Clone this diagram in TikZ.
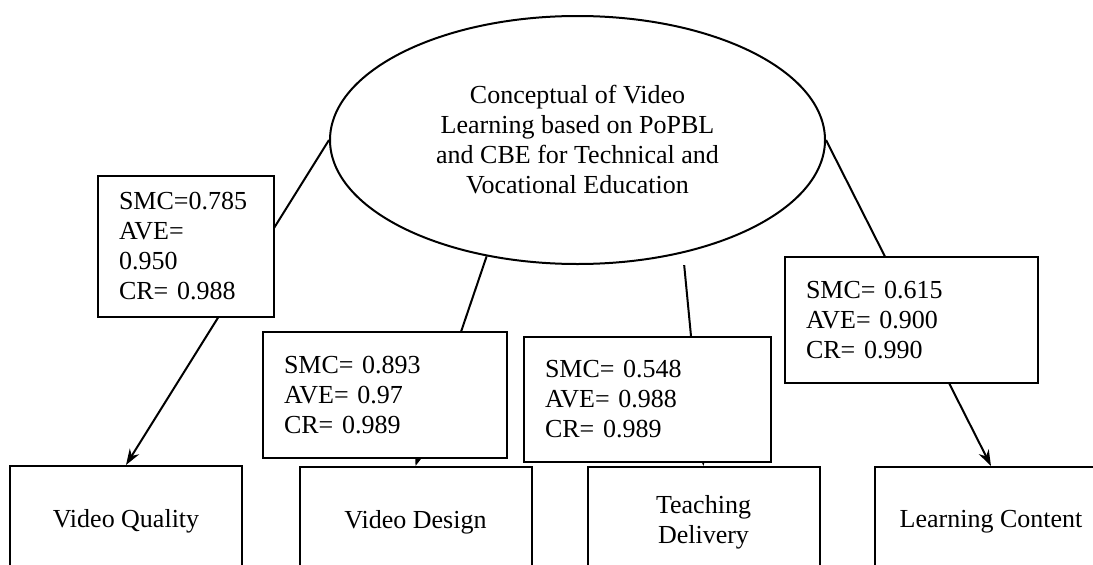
\documentclass[tikz,border=0pt]{standalone}
\usepackage{fontspec}
\setmainfont{Liberation Serif}
\usetikzlibrary{shapes.geometric,arrows.meta}

\begin{document}
\begin{tikzpicture}[x=1pt,y=-1pt,
    every node/.style={font=\fontsize{26}{30}\selectfont},
    factorbox/.style={draw, line width=2pt, minimum width=232pt, minimum height=110pt, anchor=north, align=center},
    statbox/.style={draw, fill=white, line width=2pt, inner xsep=21pt, inner ysep=0pt, align=left},
    link/.style={line width=2pt, -{Stealth[length=16pt,width=11pt]}}]
    \useasboundingbox (0,0) rectangle (1093,565);
    \clip (0,0) rectangle (1093,565);

    % Central construct
    \node[draw, ellipse, line width=2pt, minimum width=495pt, minimum height=248pt, inner sep=0pt, align=center] (concept) at (577.5,140)
        {Conceptual of Video\\Learning based on PoPBL\\and CBE for Technical and\\Vocational Education};

    % Factor boxes (run past the bottom edge)
    \node[factorbox] (quality) at (126,465) {Video Quality};
    \node[factorbox] (design) at (415.5,466) {Video Design};
    \node[factorbox] (delivery) at (703.5,466) {Teaching\\Delivery};
    \node[factorbox] (content) at (991,466) {Learning Content};

    % Paths from the construct to each factor
    \draw[link] (concept.west) -- (quality.north);
    \draw[link] (concept.232) -- (design.north);
    \draw[link, shorten <=12pt] (concept.313) -- (delivery.north);
    \draw[link] (concept.east) -- (content.north);

    % Statistics boxes lying over the paths
    \node[statbox, text width=134pt, minimum height=141pt] (qualitystat) at (186,246.5)
        {SMC=0.785\\AVE=\\0.950\\CR= 0.988};
    \node[statbox, text width=202pt, minimum height=126pt] (designstat) at (385,395)
        {SMC= 0.893\\AVE= 0.97\\CR= 0.989};
    \node[statbox, text width=205pt, minimum height=125pt] (deliverystat) at (647.5,399.5)
        {SMC= 0.548\\AVE= 0.988\\CR= 0.989};
    \node[statbox, text width=211pt, minimum height=126pt] (contentstat) at (911.5,320)
        {SMC= 0.615\\AVE= 0.900\\CR= 0.990};
\end{tikzpicture}
\end{document}
